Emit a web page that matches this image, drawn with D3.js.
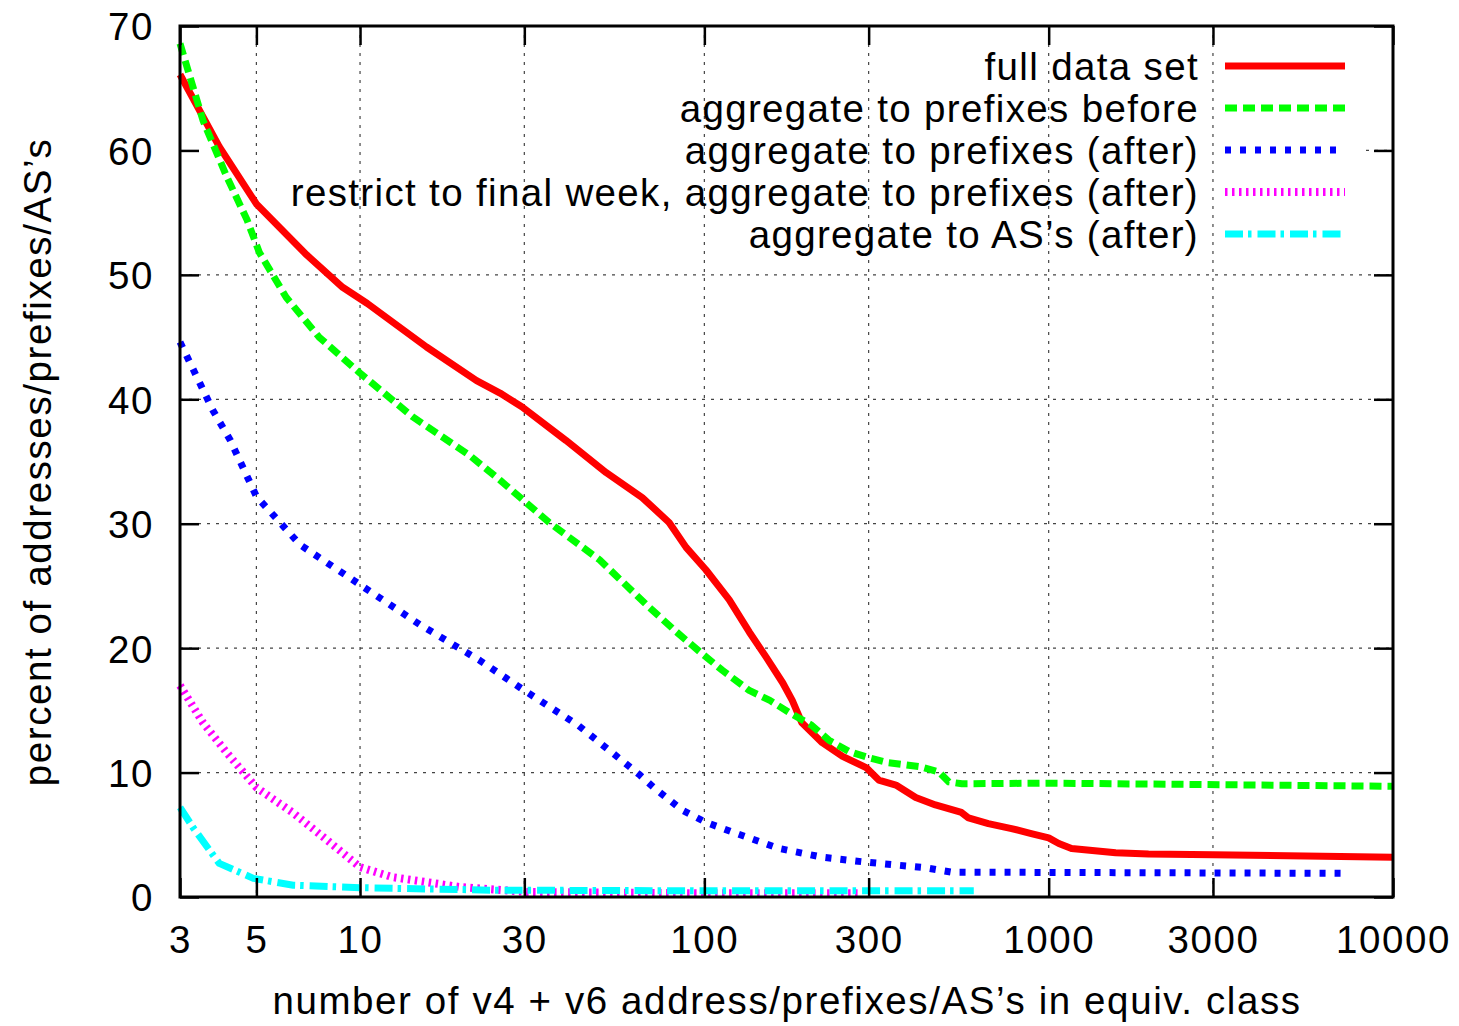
<!DOCTYPE html>
<html>
<head>
<meta charset="utf-8">
<script src="https://cdn.jsdelivr.net/npm/d3@7"></script>
<style>
  body { margin: 0; background: #fff; }
  text { font-family: "Liberation Sans", Arial, Helvetica, sans-serif; letter-spacing: 1.6px; }
</style>
</head>
<body>
<svg id="chart" width="1459" height="1026"></svg>
<script>
// ---- data ----
const xTicks = [3, 5, 10, 30, 100, 300, 1000, 3000, 10000];
const yTicks = [0, 10, 20, 30, 40, 50, 60, 70];

const seriesNames = [
  "full data set",
  "aggregate to prefixes before",
  "aggregate to prefixes (after)",
  "restrict to final week, aggregate to prefixes (after)",
  "aggregate to AS\u2019s (after)"
];

const fullData = [
  [3, 66.1], [3.9, 60.3], [5, 55.7], [7, 51.6], [8.9, 49.0], [10.5, 47.7], [15.6, 44.2],
  [21.8, 41.5], [25.5, 40.5], [29.5, 39.4], [39.6, 36.7], [51.9, 34.1], [66, 32.1],
  [79, 30.1], [88.5, 28.1], [101, 26.3], [118, 23.9], [135, 21.3], [151, 19.3],
  [169, 17.2], [180, 15.8], [192, 14.0], [220, 12.4], [252, 11.3], [295, 10.4],
  [321, 9.4], [360, 9.0], [411, 8.0], [469, 7.4], [558, 6.8], [585, 6.35], [668, 5.9],
  [780, 5.5], [890, 5.1], [1000, 4.75], [1070, 4.3], [1165, 3.9], [1565, 3.55],
  [1950, 3.45], [3000, 3.4], [10000, 3.2]
];

const prefBefore = [
  [3, 68.6], [3.5, 62.4], [4.1, 57.9], [4.7, 54.4], [5.1, 51.8], [6.1, 48.2], [7.6, 45.0],
  [10, 42.1], [14.2, 38.6], [20.8, 35.5], [25.5, 33.5], [35.4, 30.1], [49.6, 27.1],
  [69, 23.3], [83, 21.3], [98, 19.6], [113, 18.2], [135, 16.6], [155, 15.8], [177, 14.8],
  [205, 13.8], [230, 12.6], [263, 11.7], [300, 11.2], [342, 10.8], [427, 10.45],
  [480, 10.05], [513, 9.25], [560, 9.1], [1000, 9.15], [10000, 8.9]
];

const prefAfter = [
  [3, 44.6], [3.74, 39.1], [4.2, 36.7], [5, 32.2], [6.7, 28.3], [10, 25.1], [14.9, 21.9],
  [22.3, 19.0], [30, 16.6], [43, 13.8], [65, 9.8], [72, 8.7], [86, 7.0], [101, 6.0],
  [124, 5.1], [165, 3.9], [220, 3.2], [295, 2.8], [438, 2.35], [522, 2.0], [7250, 1.9]
];

const finalWeek = [
  [3, 17.0], [3.5, 14.0], [4.1, 11.6], [5, 8.8], [6.4, 6.75], [8, 4.6], [10, 2.4],
  [12.4, 1.6], [19.5, 0.8], [30.7, 0.4], [100, 0.3], [280, 0.3]
];

const asAfter = [
  [3, 7.2], [3.27, 5.6], [3.9, 2.7], [4.9, 1.5], [6.4, 0.95], [10, 0.75], [24, 0.55],
  [100, 0.5], [606, 0.5]
];

const seriesData = [fullData, prefBefore, prefAfter, finalWeek, asAfter];
const seriesColors = ["#ff0000", "#00ff00", "#0000ff", "#ff00ff", "#00ffff"];
const seriesDash = [null, "12,6", "6,9", "2.5,4.5", "18,5,3.5,6"];

// ---- layout ----
const mLeft = 180, mRight = 1393, mTop = 26, mBottom = 897;
const svg = d3.select("#chart");

const xs = d3.scaleLog().domain([3, 10000]).range([mLeft, mRight]);
const ys = d3.scaleLinear().domain([0, 70]).range([mBottom, mTop]);

// grid
const grid = svg.append("g").attr("stroke", "#444").attr("stroke-width", 1.2).attr("fill", "none");
grid.selectAll(".vg").data(xTicks.slice(1, -1)).join("line")
  .attr("x1", d => xs(d)).attr("x2", d => xs(d))
  .attr("y1", mTop).attr("y2", mBottom)
  .attr("stroke-dasharray", "3,6");
grid.selectAll(".hg").data(yTicks.slice(1, -1)).join("line")
  .attr("x1", d => d === 60 ? 1366 : mLeft).attr("x2", mRight)
  .attr("y1", d => ys(d)).attr("y2", d => ys(d))
  .attr("stroke-dasharray", "3,6");

// lines
const line = d3.line().x(d => xs(d[0])).y(d => ys(d[1]));
seriesData.forEach((s, i) => {
  svg.append("path")
    .datum(s)
    .attr("fill", "none")
    .attr("stroke", seriesColors[i])
    .attr("stroke-width", i === 3 ? 8 : 7)
    .attr("stroke-linejoin", "round")
    .attr("stroke-dasharray", seriesDash[i])
    .attr("d", line);
});

// axes
const fs = "38.5px";
const gx = svg.append("g").attr("transform", "translate(0," + mBottom + ")")
  .call(d3.axisBottom(xs).tickValues(xTicks).tickFormat(d3.format("d")).tickSize(-19).tickPadding(29));
const gy = svg.append("g").attr("transform", "translate(" + mLeft + ",0)")
  .call(d3.axisLeft(ys).tickValues(yTicks).tickSize(-19).tickPadding(26));
const gt = svg.append("g").attr("transform", "translate(0," + mTop + ")")
  .call(d3.axisTop(xs).tickValues(xTicks).tickFormat("").tickSize(-19));
const gr = svg.append("g").attr("transform", "translate(" + mRight + ",0)")
  .call(d3.axisRight(ys).tickValues(yTicks).tickFormat("").tickSize(-19));

[gx, gy, gt, gr].forEach(g => {
  g.select(".domain").remove();
  g.selectAll(".tick line").attr("stroke", "#000").attr("stroke-width", 2.5);
  g.selectAll(".tick text").attr("fill", "#000").style("font-size", fs)
    .style("font-family", "'Liberation Sans', Arial, sans-serif");
});
gy.selectAll(".tick text").attr("dy", "0.36em");

// border
svg.append("rect")
  .attr("x", mLeft).attr("y", mTop)
  .attr("width", mRight - mLeft).attr("height", mBottom - mTop)
  .attr("fill", "none").attr("stroke", "#000").attr("stroke-width", 3);

// axis titles
svg.append("text")
  .attr("x", 787).attr("y", 1014)
  .attr("text-anchor", "middle")
  .style("font-size", fs)
  .text("number of v4 + v6 address/prefixes/AS\u2019s in equiv. class");

svg.append("text")
  .attr("transform", "translate(51,462) rotate(-90)")
  .attr("text-anchor", "middle")
  .style("font-size", fs)
  .text("percent of addresses/prefixes/AS\u2019s");

// legend
const legend = svg.append("g");
seriesNames.forEach((name, i) => {
  const yy = 66 + i * 42;
  legend.append("text")
    .attr("x", 1199).attr("y", yy).attr("dy", "0.36em")
    .attr("text-anchor", "end")
    .style("font-size", fs)
    .style("letter-spacing", "1.35px")
    .text(name);
  legend.append("line")
    .attr("x1", 1225).attr("x2", 1345)
    .attr("y1", yy).attr("y2", yy)
    .attr("stroke", seriesColors[i])
    .attr("stroke-width", i === 3 ? 8 : 7)
    .attr("stroke-dasharray", seriesDash[i]);
});
</script>
</body>
</html>
